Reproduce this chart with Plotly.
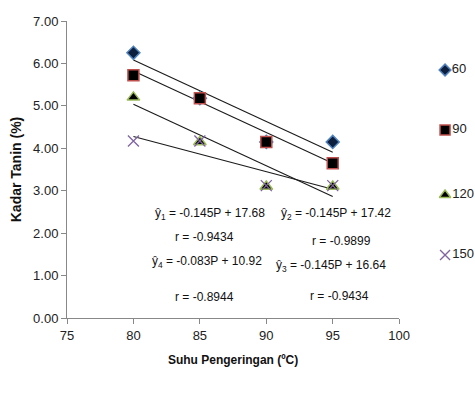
import plotly.graph_objects as go

suhu = [80, 85, 90, 95]
series_names = ["60", "90", "120", "150"]
kadar_60 = [6.25, 5.18, 4.15, 4.15]
kadar_90 = [5.72, 5.18, 4.15, 3.65]
kadar_120 = [5.2, 4.15, 3.1, 3.1]
kadar_150 = [4.17, 4.17, 3.12, 3.12]
slopes = [-0.145, -0.145, -0.145, -0.083]
intercepts = [17.68, 17.42, 16.64, 10.92]
eq_texts = [
    "ŷ<sub>1</sub> = -0.145P + 17.68",
    "r = -0.9434",
    "ŷ<sub>4</sub> = -0.083P + 10.92",
    "r = -0.8944",
    "ŷ<sub>2</sub> = -0.145P + 17.42",
    "r = -0.9899",
    "ŷ<sub>3</sub> = -0.145P + 16.64",
    "r = -0.9434",
]
x_ticks = [75, 80, 85, 90, 95, 100]
y_ticks = [0, 1, 2, 3, 4, 5, 6, 7]
x_range = [75, 100]
y_range = [0, 7]

FONT = "Liberation Sans, Arial, sans-serif"

# layout geometry (pixels); the renderer keeps ~10px on the right on its own
Wfig, Hfig = 475, 394
L, T, B = 67, 21, 76
R_EFF = 10
plot_right = 400
W = Wfig - L - R_EFF
H = Hfig - T - B


def px_to_x(px):
    return x_range[0] + (px - L) / (plot_right - L) * (x_range[1] - x_range[0])


def px_to_y(py):
    return y_range[0] + (Hfig - B - py) / H * (y_range[1] - y_range[0])


fig = go.Figure()

# trendlines
for m, c in zip(slopes, intercepts):
    xs = [suhu[0], suhu[-1]]
    fig.add_trace(go.Scatter(x=xs, y=[m * v + c for v in xs], mode="lines",
                             line=dict(color="#1a1a1a", width=1.1),
                             showlegend=False, hoverinfo="skip"))

styles = [
    dict(symbol="diamond", size=10, color="#0d1f3c", line=dict(color="#4f81bd", width=1.5)),
    dict(symbol="square", size=11, color="#000000", line=dict(color="#c0504d", width=1.5)),
    dict(symbol="triangle-up", size=11, color="#000000", line=dict(color="#9bbb59", width=1.5)),
    dict(symbol="x-thin", size=11, color="#8064a2", line=dict(color="#8064a2", width=1.3)),
]
all_series = [kadar_60, kadar_90, kadar_120, kadar_150]
for name, ys, st in zip(series_names, all_series, styles):
    fig.add_trace(go.Scatter(x=suhu, y=ys, mode="markers", name=name, marker=st,
                             showlegend=False))

# manual legend on a hidden overlay subplot in pixel coordinates
leg_y = [70, 130, 195, 255]
leg_x = 446
for name, st, ly in zip(series_names, styles, leg_y):
    st2 = dict(st)
    st2["size"] = st["size"] - 1
    fig.add_trace(go.Scatter(x=[leg_x], y=[ly], mode="markers+text", text=[name],
                             textposition="middle right", marker=st2, cliponaxis=False,
                             textfont=dict(family=FONT, size=13, color="#222222"),
                             xaxis="x2", yaxis="y2", showlegend=False, hoverinfo="skip"))

# equation annotations (pixel positions -> data)
pos = [
    (210, 214), (205, 237), (207, 262), (205, 297),
    (337, 214), (342, 241), (332, 266), (340, 296),
]
for t, (px, py) in zip(eq_texts, pos):
    fig.add_annotation(text=t, x=px_to_x(px), y=px_to_y(py),
                       xref="x", yref="y", showarrow=False,
                       font=dict(family=FONT, size=12, color="#111111"),
                       xanchor="center", yanchor="middle")

axis_common = dict(showgrid=False, zeroline=False, showline=True, linecolor="#888888",
                   linewidth=1, ticks="outside", tickcolor="#888888", ticklen=5,
                   tickfont=dict(family=FONT, size=13, color="#222222"))

fig.update_layout(
    width=Wfig, height=Hfig,
    margin=dict(l=L, r=0, t=T, b=B),
    paper_bgcolor="white", plot_bgcolor="rgba(0,0,0,0)",
    font=dict(family=FONT, size=13, color="#222222"),
    showlegend=False,
    xaxis=dict(range=x_range, tickvals=x_ticks, domain=[0, (plot_right - L) / W],
               title=dict(text="<b>Suhu Pengeringan (ºC)</b>",
                          font=dict(family=FONT, size=12, color="#111111"), standoff=14),
               **axis_common),
    yaxis=dict(range=y_range, tickvals=y_ticks, tickformat=".2f",
               title=dict(text="<b>Kadar Tanin (%)</b>",
                          font=dict(family=FONT, size=14, color="#111111"), standoff=8),
               **axis_common),
    xaxis2=dict(range=[L, Wfig - R_EFF], domain=[0, 1], anchor="y2", visible=False,
                fixedrange=True),
    yaxis2=dict(range=[Hfig - B, T], domain=[0, 1], anchor="x2", visible=False,
                fixedrange=True),
)

fig.write_html("out.html")
